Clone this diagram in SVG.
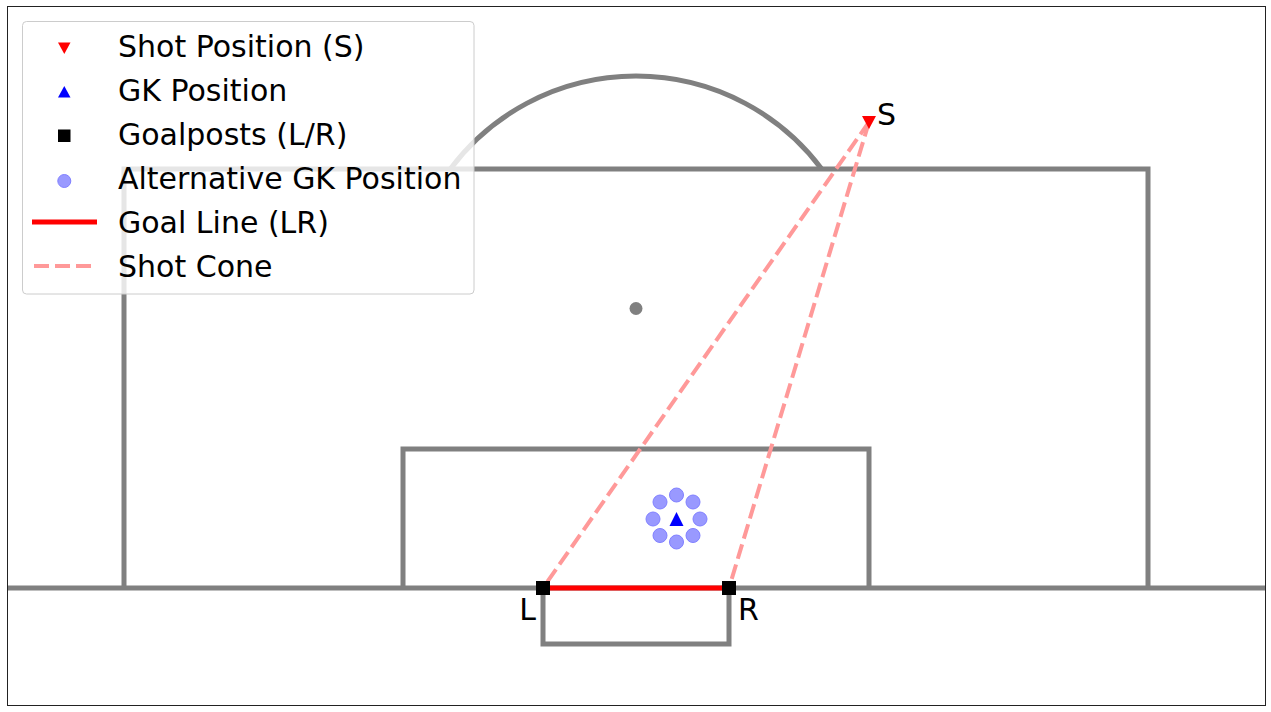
<svg xmlns="http://www.w3.org/2000/svg" width="1271" height="712" viewBox="0 0 1271 712">
<style>
.field{fill:none;stroke:#808080;stroke-width:5;stroke-linejoin:miter;stroke-linecap:butt}
.cone{fill:none;stroke:#ff9999;stroke-width:4;stroke-dasharray:15 6}
.goal{stroke:#ff0000;stroke-width:5}
.alt{fill:#9999ff;stroke:#8080ff;stroke-width:1}
.post{fill:#000000}
.txt{font-family:"DejaVu Sans","Liberation Sans",sans-serif;font-size:30px;fill:#000000}
</style>
<rect x="0" y="0" width="1271" height="712" fill="#ffffff"/>
<g id="pitch">
<line class="field" x1="7" y1="588" x2="1265" y2="588"/>
<polyline class="field" points="124,588 124,169 1148,169 1148,588"/>
<polyline class="field" points="403,588 403,449 869,449 869,588"/>
<polyline class="field" points="543,588 543,644 729,644 729,588"/>
<path class="field" d="M 450.3 169 A 232 232 0 0 1 821.7 169"/>
<circle cx="636" cy="308.5" r="6.5" fill="#808080"/>
</g>
<g id="connectors">
<line class="goal" x1="543" y1="588" x2="729" y2="588"/>
<line class="cone" x1="869" y1="122" x2="543" y2="588"/>
<line class="cone" x1="869" y1="122" x2="729" y2="588"/>
</g>
<g id="alternatives">
<circle class="alt" cx="676.5" cy="495" r="7"/>
<circle class="alt" cx="693" cy="502" r="7"/>
<circle class="alt" cx="700" cy="519" r="7"/>
<circle class="alt" cx="693" cy="535.5" r="7"/>
<circle class="alt" cx="676.5" cy="542" r="7"/>
<circle class="alt" cx="660" cy="535.5" r="7"/>
<circle class="alt" cx="653" cy="519" r="7"/>
<circle class="alt" cx="660" cy="502" r="7"/>
</g>
<g id="gk">
<polygon points="676.5,512 683.5,526 669.5,526" fill="#0000ff"/>
</g>
<g id="post-L">
<rect class="post" x="536" y="581" width="14" height="14"/>
<text class="txt" x="536" y="620" text-anchor="end">L</text>
</g>
<g id="post-R">
<rect class="post" x="722" y="581" width="14" height="14"/>
<text class="txt" x="738" y="620">R</text>
</g>
<g id="shot">
<polygon points="862,116 876,116 869,129" fill="#ff0000"/>
<text class="txt" x="877" y="125">S</text>
</g>
<g id="legend">
<rect x="22.5" y="21.5" width="451.5" height="272.5" rx="4" fill="#ffffff" fill-opacity="0.8" stroke="#cccccc" stroke-width="1"/>
<polygon points="58,42.5 70.5,42.5 64.3,54" fill="#ff0000"/>
<text class="txt" x="118" y="57">Shot Position (S)</text>
<polygon points="64.3,86 70.5,97.5 58,97.5" fill="#0000ff"/>
<text class="txt" x="118" y="101">GK Position</text>
<rect x="58" y="129.5" width="12.5" height="12.5" fill="#000000"/>
<text class="txt" x="118" y="145">Goalposts (L/R)</text>
<circle class="alt" cx="64.3" cy="181" r="6.5"/>
<text class="txt" x="118" y="189">Alternative GK Position</text>
<line class="goal" x1="32" y1="222" x2="97" y2="222"/>
<text class="txt" x="118" y="233">Goal Line (LR)</text>
<line class="cone" x1="34" y1="266" x2="91" y2="266"/>
<text class="txt" x="118" y="277">Shot Cone</text>
</g>
<rect x="7.5" y="6.5" width="1258" height="699" fill="none" stroke="#222222" stroke-width="1"/>
</svg>
